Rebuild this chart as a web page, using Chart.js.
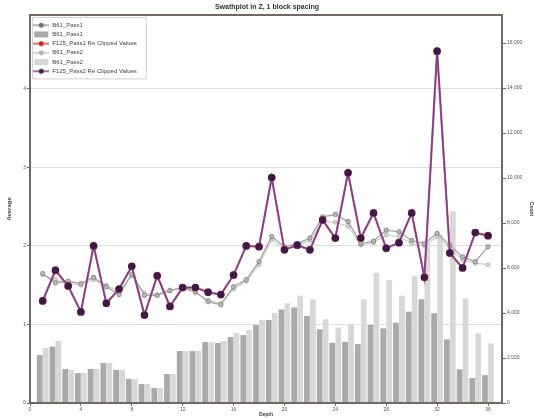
<!DOCTYPE html>
<html>
<head>
<meta charset="utf-8">
<script src="https://cdn.jsdelivr.net/npm/chart.js@4.4.0/dist/chart.umd.min.js"></script>
<style>
  html, body { margin: 0; padding: 0; background: #fff; }
</style>
</head>
<body>
<canvas id="chart" width="534" height="418"></canvas>
<script>
// block index along Z
const blocks = [1, 2, 3, 4, 5, 6, 7, 8, 9, 10, 11, 12, 13, 14, 15, 16, 17, 18,
  19, 20, 21, 22, 23, 24, 25, 26, 27, 28, 29, 30, 31, 32, 33, 34, 35, 36];

// averages (left axis)
const b61Pass1Avg = [1.65, 1.53, 1.55, 1.52, 1.60, 1.48, 1.38, 1.64, 1.37, 1.37, 1.43, 1.47,
  1.42, 1.29, 1.25, 1.48, 1.57, 1.80, 2.12, 1.99, 2.03, 2.10, 2.37, 2.40,
  2.31, 2.03, 2.06, 2.20, 2.18, 2.07, 2.03, 2.16, 2.01, 1.86, 1.80, 1.99];
const b61Pass2Avg = [1.63, 1.57, 1.52, 1.50, 1.57, 1.50, 1.42, 1.62, 1.40, 1.38, 1.44, 1.46,
  1.40, 1.31, 1.27, 1.45, 1.55, 1.76, 2.08, 1.96, 2.01, 2.07, 2.31, 2.30,
  2.25, 2.01, 2.04, 2.14, 2.12, 2.03, 2.00, 2.12, 1.98, 1.82, 1.78, 1.76];
const f125Pass2Avg = [1.30, 1.69, 1.49, 1.16, 2.00, 1.27, 1.45, 1.74, 1.12, 1.62, 1.23, 1.47,
  1.47, 1.41, 1.38, 1.63, 2.00, 1.99, 2.87, 1.95, 2.01, 1.95, 2.33, 2.10,
  2.93, 2.10, 2.42, 1.97, 2.04, 2.42, 1.60, 4.48, 1.91, 1.72, 2.17, 2.13];
// pass 1 clipped values lie under pass 2
const f125Pass1Avg = f125Pass2Avg;

// sample counts (right axis)
const b61Pass1Count = [2130, 2510, 1510, 1330, 1510, 1780, 1470, 1070, 840, 670, 1290, 2310,
  2310, 2710, 2670, 2930, 3020, 3470, 3690, 4160, 4250, 3870, 3280, 2680,
  2720, 2620, 3470, 3320, 3570, 4060, 4610, 3990, 2830, 1500, 1110, 1240];
const b61Pass2Count = [2440, 2760, 1470, 1330, 1510, 1780, 1470, 1070, 840, 670, 1290, 2310,
  2310, 2710, 2760, 3110, 3240, 3690, 4010, 4430, 4770, 4610, 3720, 3350,
  3500, 4610, 5790, 5470, 4770, 5660, 7100, 7500, 8530, 4650, 3100, 2650];

const xTicks = [0, 4, 8, 12, 16, 20, 24, 28, 32, 36];
const avgTicks = [0, 1, 2, 3, 4];
const countTicks = [0, 2000, 4000, 6000, 8000, 10000, 12000, 14000, 16000];

const pts = (vals) => blocks.map((b, i) => ({ x: b, y: vals[i] }));

function icon(kind, color, mark) {
  const c = document.createElement("canvas");
  c.width = 16;
  c.height = 8;
  const g = c.getContext("2d");
  if (kind === "bar") {
    g.fillStyle = color;
    g.fillRect(1, 1, 14, 6);
  } else {
    g.strokeStyle = color;
    g.lineWidth = 1.5;
    g.beginPath();
    g.moveTo(0, 4);
    g.lineTo(16, 4);
    g.stroke();
    g.fillStyle = mark;
    g.beginPath();
    g.arc(8, 4, 2.5, 0, Math.PI * 2);
    g.fill();
  }
  return c;
}

const tickFont = { family: "Liberation Sans", size: 5 };
const legendPad = 3.2;

// legend sits inside the plot, top left
const legendInside = {
  id: "legendInside",
  afterLayout(chart) {
    const lg = chart.legend;
    if (!lg) return;
    lg.top = chart.chartArea.top + 4;
  },
  beforeDraw(chart) {
    const lg = chart.legend;
    const boxes = lg && lg.legendHitBoxes;
    if (!boxes || !boxes.length) return;
    const ctx = chart.ctx;
    const l = lg.left + 2;
    const t = lg.top - 2;
    const r = lg.left + legendPad + Math.max(...boxes.map((b) => b.width)) + 9;
    const btm = lg.top + legendPad + boxes.length * (6 + legendPad) + 1;
    ctx.save();
    ctx.fillStyle = "#fff";
    ctx.strokeStyle = "#d2d2d2";
    ctx.lineWidth = 1;
    ctx.fillRect(l, t, r - l, btm - t);
    ctx.strokeRect(l + 0.5, t + 0.5, r - l, btm - t);
    ctx.restore();
  },
};

const frame = {
  id: "frame",
  afterDraw(chart) {
    const a = chart.chartArea;
    const ctx = chart.ctx;
    ctx.save();
    ctx.strokeStyle = "#73675f";
    ctx.lineWidth = 2;
    ctx.strokeRect(a.left, a.top, a.right - a.left, a.bottom - a.top);
    ctx.restore();
  },
};

new Chart(document.getElementById("chart"), {
  type: "bar",
  data: {
    datasets: [
      {
        type: "line",
        label: "B61_Pass1",
        data: pts(b61Pass1Avg),
        yAxisID: "y",
        borderColor: "#a3a3a3",
        borderWidth: 1.3,
        pointRadius: 2.2,
        pointBackgroundColor: "#b8b8b8",
        pointBorderColor: "#7d7d7d",
        pointBorderWidth: 0.8,
        order: 3,
        icon: icon("line", "#9a9a9a", "#6f6f6f"),
      },
      {
        label: "B61_Pass1",
        data: pts(b61Pass1Count),
        yAxisID: "y1",
        backgroundColor: "#a9a9a9",
        order: 5,
        icon: icon("bar", "#a8a8a8"),
      },
      {
        type: "line",
        label: "F125_Pass1 Re Clipped Values",
        data: pts(f125Pass1Avg),
        yAxisID: "y",
        borderColor: "#b86a9e",
        borderWidth: 2.2,
        pointRadius: 2.8,
        pointBackgroundColor: "#c83030",
        pointBorderColor: "#c83030",
        order: 1,
        icon: icon("line", "#d04040", "#c02020"),
      },
      {
        type: "line",
        label: "B61_Pass2",
        data: pts(b61Pass2Avg),
        yAxisID: "y",
        borderColor: "#cdcdcd",
        borderWidth: 1.2,
        pointRadius: 2,
        pointBackgroundColor: "#d6d6d6",
        pointBorderColor: "#b0b0b0",
        pointBorderWidth: 0.8,
        order: 4,
        icon: icon("line", "#c8c8c8", "#b5b5b5"),
      },
      {
        label: "B61_Pass2",
        data: pts(b61Pass2Count),
        yAxisID: "y1",
        backgroundColor: "#d8d8d8",
        order: 5,
        icon: icon("bar", "#d6d6d6"),
      },
      {
        type: "line",
        label: "F125_Pass2 Re Clipped Values",
        data: pts(f125Pass2Avg),
        yAxisID: "y",
        borderColor: "#83407f",
        borderWidth: 1.5,
        pointRadius: 2.8,
        pointBackgroundColor: "#3a1c4c",
        pointBorderColor: "#3a1c4c",
        order: 0,
        icon: icon("line", "#83407f", "#3a1c4c"),
      },
    ],
  },
  options: {
    responsive: false,
    animation: false,
    devicePixelRatio: 1,
    layout: { padding: 0 },
    categoryPercentage: 0.94,
    barPercentage: 0.96,
    plugins: {
      title: {
        display: true,
        text: "Swathplot in Z, 1 block spacing",
        color: "#333",
        font: { family: "Liberation Sans", size: 7, weight: "bold", lineHeight: 1 },
        padding: { top: 4, bottom: 4 },
      },
      legend: {
        position: "chartArea",
        align: "start",
        labels: {
          usePointStyle: true,
          pointStyleWidth: 16,
          padding: legendPad,
          color: "#444",
          font: { family: "Liberation Sans", size: 6 },
          generateLabels: (chart) =>
            chart.data.datasets.map((ds, i) => ({
              text: ds.label,
              pointStyle: ds.icon,
              datasetIndex: i,
              fontColor: "#444",
              fillStyle: "transparent",
              strokeStyle: "transparent",
              lineWidth: 0,
              hidden: false,
            })),
        },
      },
      tooltip: { enabled: false },
    },
    scales: {
      x: {
        type: "linear",
        min: 0,
        max: 37.1,
        offset: false,
        afterBuildTicks: (s) => { s.ticks = xTicks.map((v) => ({ value: v })); },
        afterFit: (s) => { s.height = 15; },
        border: { display: false },
        grid: { drawOnChartArea: false, offset: false, tickLength: 3, tickColor: "#666" },
        ticks: { font: tickFont, color: "#555", padding: 1, maxRotation: 0, autoSkip: false },
        title: {
          display: true,
          text: "Depth",
          color: "#444",
          font: { family: "Liberation Sans", size: 5, weight: "bold" },
          padding: 0,
        },
      },
      y: {
        position: "left",
        min: 0,
        max: 4.94,
        afterBuildTicks: (s) => { s.ticks = avgTicks.map((v) => ({ value: v })); },
        afterFit: (s) => { s.width = 30; },
        border: { display: false },
        grid: { color: "#dedede", tickLength: 3, tickColor: "#666" },
        ticks: { font: tickFont, color: "#555", padding: 1 },
        title: {
          display: true,
          text: "Average",
          color: "#444",
          font: { family: "Liberation Sans", size: 6, weight: "bold" },
          padding: { top: 6, bottom: 0 },
        },
      },
      y1: {
        position: "right",
        min: 0,
        max: 17250,
        afterBuildTicks: (s) => { s.ticks = countTicks.map((v) => ({ value: v })); },
        afterFit: (s) => { s.width = 32; },
        border: { display: false },
        grid: { drawOnChartArea: false, tickLength: 4, tickColor: "#666" },
        ticks: { font: tickFont, color: "#555", padding: 1 },
        title: {
          display: true,
          text: "Count",
          color: "#444",
          font: { family: "Liberation Sans", size: 5, weight: "bold" },
          padding: 0,
        },
      },
    },
  },
  plugins: [legendInside, frame],
});
</script>
</body>
</html>
